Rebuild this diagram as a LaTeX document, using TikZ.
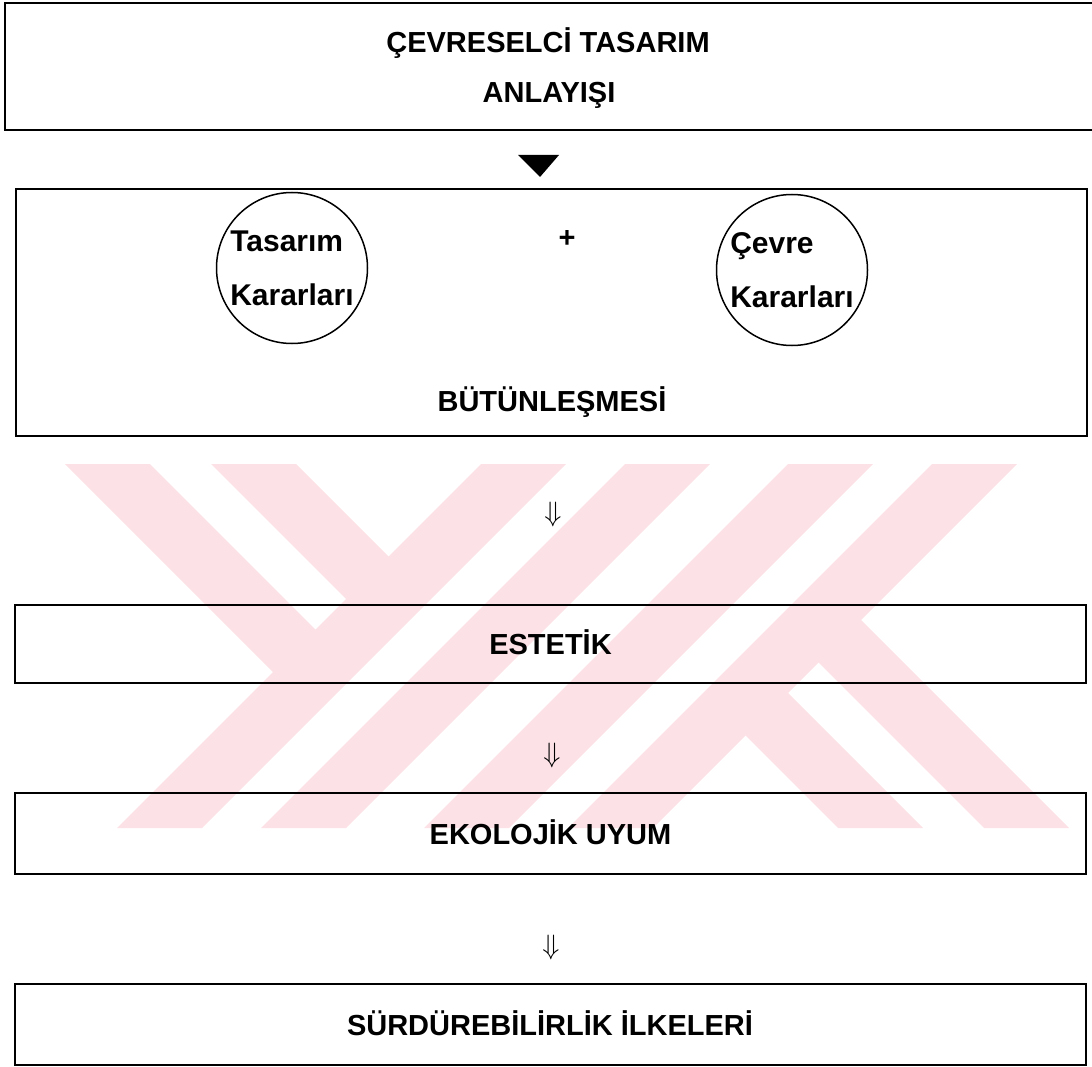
\documentclass[tikz,border=0pt]{standalone}
\usepackage{fontspec}
\setmainfont{Liberation Sans}
\usetikzlibrary{positioning, arrows.meta}
\definecolor{wmpink}{RGB}{252,226,231}

\begin{document}
\begin{tikzpicture}[
        x=1pt, y=-1pt,
        box/.style={draw, rectangle, line width=2pt, inner sep=0pt, minimum width=1071pt, font=\bfseries\fontsize{29}{29}\selectfont, text height=21pt, text depth=0pt},
        ring/.style={draw, circle, line width=1.5pt, inner sep=0pt, minimum size=151pt, align=left, font=\bfseries\fontsize{30}{54}\selectfont},
        lbl/.style={inner sep=0pt, font=\bfseries\fontsize{29}{29}\selectfont, text height=21pt, text depth=0pt},
        down/.style={inner sep=0pt, scale=2.8}
    ]
        \clip (0,0) rectangle (1092,1067);
        % background watermark
        \foreach \s in {945,1089,1252,1396}
            \fill[wmpink] ({\s-464},464) -- ++(85,0) -- ({\s+85-828},828) -- ({\s-828},828) -- cycle;
        \fill[wmpink] (65,464) -- (150,464) -- (343,657) -- (300.5,699.5) -- cycle;
        \fill[wmpink] (211,464) -- (296,464) -- (416,584) -- (373.5,626.5) -- cycle;
        \fill[wmpink] (1069,828) -- (984,828) -- (791,635) -- (833.5,592.5) -- cycle;
        \fill[wmpink] (923,828) -- (838,828) -- (718,708) -- (760.5,665.5) -- cycle;

        \node[box, minimum width=1095pt, minimum height=127pt] (top) at (552.5,66.5) {};
        \node[lbl] (title1) at (548,42) {ÇEVRESELCİ TASARIM};
        \node[lbl] (title2) at (549,92) {ANLAYIŞI};

        \node[box, minimum height=247pt] (merge) at (551,312.5) {};
        \node[ring] (design) at (292,268) {Tasarım\\Kararları};
        \node[ring] (env) at (792,270) {Çevre\\Kararları};
        \node[lbl] (plus) at (567,237) {+};
        \node[lbl] (mergetext) at (552,401) {BÜTÜNLEŞMESİ};

        \node[box, minimum height=78pt] (aes) at (550.5,644) {ESTETİK};
        \node[box, minimum height=81pt] (eco) at (550.5,833.5) {EKOLOJİK UYUM};
        \node[box, minimum height=81pt] (sus) at (550,1024.5) {SÜRDÜREBİLİRLİK İLKELERİ};

        % arrows
        \coordinate (tip) at (540,177);
        \fill (tip) -- ++(-22,-22) -- ++(41,0) -- cycle;
        \node[down] (d1) at (553,514) {$\Downarrow$};
        \node[down] (d2) at (552,755) {$\Downarrow$};
        \node[down] (d3) at (551,947) {$\Downarrow$};
    \end{tikzpicture}
\end{document}
